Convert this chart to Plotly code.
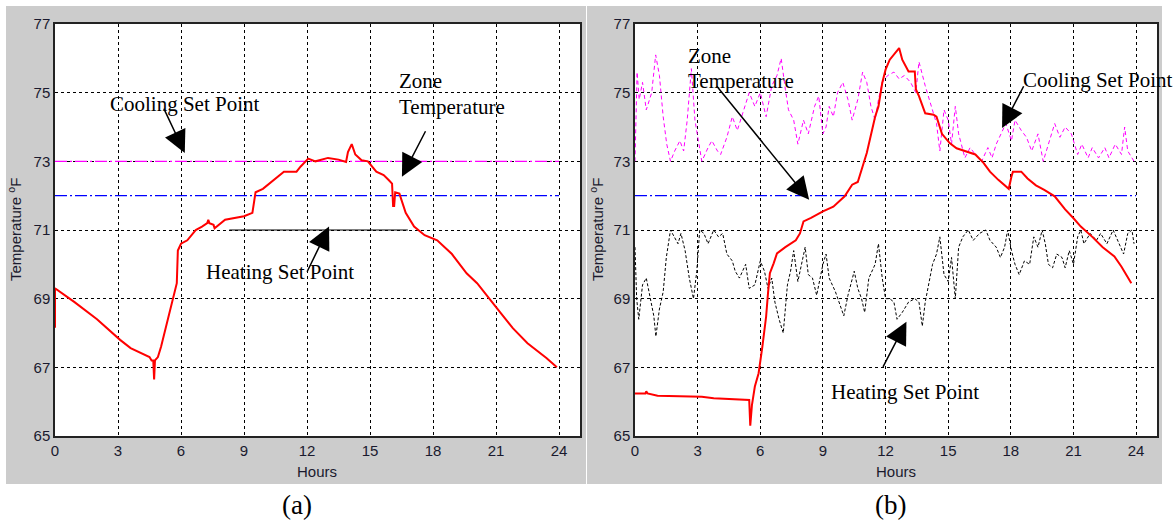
import plotly.graph_objects as go

# ---------------- data ----------------
hour_ticks = [0, 3, 6, 9, 12, 15, 18, 21, 24]
temp_ticks = [65, 67, 69, 71, 73, 75, 77]

# panel (a)
a_zone = [(0, 68.15), (0, 69.3), (0.93, 68.9), (2.0, 68.4), (3.1, 67.8), (3.6, 67.56),
          (4.5, 67.3), (4.6, 67.2), (4.68, 67.2), (4.72, 66.65), (4.76, 67.2), (4.9, 67.3),
          (5.05, 67.6), (5.3, 68.2), (5.6, 69.0), (5.8, 69.45), (5.85, 70.4), (6.0, 70.6),
          (6.3, 70.7), (6.7, 71.0), (7.0, 71.1), (7.25, 71.2), (7.3, 71.3), (7.35, 71.2),
          (7.55, 71.15), (7.6, 71.05), (8.1, 71.3), (9.0, 71.4), (9.4, 71.5), (9.55, 72.1),
          (9.9, 72.2), (10.3, 72.4), (10.6, 72.55), (10.9, 72.7), (11.5, 72.7), (11.7, 72.85),
          (12.06, 73.08), (12.4, 73.0), (13.0, 73.1), (13.5, 73.05), (13.86, 72.98),
          (13.95, 73.27), (14.13, 73.5), (14.3, 73.2), (14.6, 73.03), (14.9, 73.0),
          (15.3, 72.7), (15.65, 72.6), (15.9, 72.45), (16.05, 72.35), (16.1, 71.7),
          (16.15, 71.7), (16.2, 72.1), (16.4, 72.06), (16.7, 71.5), (17.1, 71.1),
          (17.6, 70.85), (18.2, 70.7), (18.9, 70.3), (19.6, 69.74), (20.1, 69.45),
          (20.7, 69.0), (21.2, 68.6), (21.8, 68.14), (22.5, 67.7), (23.4, 67.27), (23.9, 67.0)]
a_cooling = [(0, 73), (24, 73)]
a_mid = [(0, 72), (24, 72)]
a_heating = [(8.3, 71), (16.8, 71)]

# panel (b)
b_zone = [(0, 66.24), (0.5, 66.24), (0.54, 66.3), (0.6, 66.24), (1.08, 66.17), (2.3, 66.16),
          (3.2, 66.14), (3.77, 66.1), (4.66, 66.07), (5.47, 66.05), (5.52, 65.3),
          (5.6, 65.9), (5.74, 66.44), (5.92, 66.83), (6.1, 67.6), (6.28, 68.48),
          (6.37, 69.16), (6.46, 69.74), (6.64, 70.03), (6.8, 70.32), (7.2, 70.5),
          (7.7, 70.7), (7.9, 70.9), (8.07, 71.25), (8.43, 71.35), (9.0, 71.54),
          (9.5, 71.68), (10.04, 71.98), (10.4, 72.32), (10.67, 72.4), (10.9, 72.85),
          (11.1, 73.24), (11.5, 74.3), (11.66, 74.6), (11.84, 75.28), (12.0, 75.67),
          (12.2, 75.96), (12.47, 76.15), (12.65, 76.3), (12.8, 75.96), (13.1, 75.62),
          (13.4, 75.62), (13.45, 75.1), (13.6, 74.9), (13.9, 74.4), (14.3, 74.36),
          (14.44, 74.3), (14.7, 73.8), (15.07, 73.53), (15.4, 73.38), (15.8, 73.3),
          (16.3, 73.2), (16.7, 72.95), (17.0, 72.7), (17.4, 72.46), (17.76, 72.27),
          (17.9, 72.2), (18.03, 72.56), (18.1, 72.7), (18.5, 72.7), (18.8, 72.5),
          (19.2, 72.3), (19.6, 72.17), (20.1, 71.98), (20.6, 71.6), (20.99, 71.35),
          (21.35, 71.1), (21.9, 70.8), (22.4, 70.5), (22.96, 70.23), (23.3, 69.93),
          (23.77, 69.45)]
b_mid = [(0, 72), (24, 72)]
b_cooling = [(0, 73.0), (0.1, 75.6), (0.2, 74.8), (0.36, 75.3), (0.54, 74.5), (0.8, 75.0),
             (0.99, 76.1), (1.17, 75.5), (1.35, 74.3), (1.52, 73.5), (1.7, 73.0), (1.9, 73.3),
             (2.15, 73.6), (2.33, 73.3), (2.5, 74.2), (2.7, 75.7), (2.87, 74.2), (3.05, 73.6),
             (3.2, 73.0), (3.5, 73.4), (3.68, 73.6), (3.95, 73.3), (4.1, 73.2), (4.4, 73.7),
             (4.66, 74.3), (4.9, 73.9), (5.2, 74.5), (5.47, 75.0), (5.74, 74.6), (6.0, 75.0),
             (6.28, 74.3), (6.55, 75.2), (6.8, 75.5), (7.0, 76.0), (7.2, 75.1), (7.35, 74.5),
             (7.6, 74.2), (7.8, 73.5), (8.07, 74.2), (8.3, 73.8), (8.6, 74.6), (8.8, 74.9),
             (9.0, 73.8), (9.15, 74.0), (9.3, 74.6), (9.5, 74.3), (9.7, 75.0), (9.95, 75.3),
             (10.2, 74.8), (10.4, 74.2), (10.67, 74.8), (10.9, 75.6), (11.1, 75.3),
             (11.3, 74.6), (11.5, 74.2), (11.66, 74.8), (11.84, 75.3), (12.1, 75.5),
             (12.4, 75.6), (12.65, 75.4), (12.9, 75.5), (13.2, 75.3), (13.45, 75.0),
             (13.6, 75.9), (13.9, 75.2), (14.2, 74.6), (14.44, 74.1), (14.6, 73.3),
             (14.8, 74.5), (15.0, 74.2), (15.16, 73.5), (15.34, 74.6), (15.5, 73.8),
             (15.8, 73.1), (16.05, 73.4), (16.3, 73.2), (16.6, 73.0), (16.9, 73.4),
             (17.1, 73.1), (17.3, 73.5), (17.6, 73.9), (17.76, 74.1), (18.03, 73.6),
             (18.2, 74.2), (18.5, 73.9), (18.75, 73.7), (19.0, 73.3), (19.3, 73.8),
             (19.55, 73.0), (19.8, 73.5), (20.1, 74.1), (20.35, 73.7), (20.6, 74.0),
             (20.9, 73.8), (21.2, 73.2), (21.4, 73.5), (21.7, 73.1), (21.9, 73.4),
             (22.2, 73.1), (22.5, 73.4), (22.7, 73.1), (23.0, 73.5), (23.3, 73.2),
             (23.45, 74.0), (23.6, 73.3), (23.9, 73.0)]
b_heating = [(0, 70.5), (0.08, 69.0), (0.18, 68.4), (0.36, 69.4), (0.54, 69.6), (0.72, 69.0),
             (0.9, 68.5), (1.0, 67.9), (1.17, 68.7), (1.35, 69.2), (1.5, 70.2), (1.7, 71.0),
             (1.9, 70.8), (2.06, 70.6), (2.2, 70.9), (2.4, 70.4), (2.6, 69.6), (2.8, 69.0),
             (2.96, 69.8), (3.1, 71.0), (3.3, 70.9), (3.5, 70.6), (3.77, 71.0), (4.0, 70.8),
             (4.2, 70.9), (4.4, 70.3), (4.66, 70.1), (4.8, 69.8), (5.0, 69.6), (5.3, 70.0),
             (5.47, 69.3), (5.74, 69.4), (6.0, 70.1), (6.2, 69.8), (6.37, 69.3), (6.55, 69.6),
             (6.7, 68.9), (6.9, 68.4), (7.1, 68.0), (7.3, 69.4), (7.45, 69.8), (7.6, 70.4),
             (7.8, 69.5), (8.0, 70.1), (8.15, 70.5), (8.3, 69.7), (8.5, 69.6), (8.7, 69.1),
             (9.0, 70.0), (9.15, 70.3), (9.3, 69.6), (9.6, 69.2), (9.85, 68.8), (10.0, 68.5),
             (10.2, 69.1), (10.5, 69.8), (10.67, 69.3), (10.85, 69.0), (11.0, 68.6),
             (11.2, 69.6), (11.5, 70.0), (11.66, 70.6), (11.84, 69.6), (12.0, 69.0),
             (12.2, 69.0), (12.4, 68.9), (12.55, 68.4), (12.8, 68.6), (13.1, 68.9),
             (13.4, 69.0), (13.6, 68.9), (13.76, 68.2), (13.9, 68.9), (14.1, 69.6),
             (14.25, 70.0), (14.44, 70.3), (14.6, 70.8), (14.8, 69.7), (15.0, 69.5),
             (15.16, 70.2), (15.34, 69.0), (15.5, 70.5), (15.7, 70.8), (15.96, 71.0),
             (16.2, 70.7), (16.5, 70.9), (16.8, 71.0), (17.0, 70.7), (17.3, 70.5),
             (17.5, 70.2), (17.7, 70.5), (17.85, 71.0), (18.03, 70.4), (18.2, 70.0),
             (18.4, 69.7), (18.65, 70.1), (18.9, 70.0), (19.1, 70.8), (19.3, 70.5),
             (19.5, 71.0), (19.65, 70.6), (19.8, 70.0), (20.0, 69.9), (20.2, 70.3),
             (20.45, 70.2), (20.6, 69.9), (20.8, 70.4), (21.0, 70.0), (21.2, 70.8),
             (21.35, 71.0), (21.5, 70.6), (21.8, 70.9), (22.1, 70.7), (22.3, 70.9),
             (22.6, 70.6), (22.9, 71.0), (23.1, 70.7), (23.4, 70.3), (23.6, 70.9),
             (23.8, 71.0), (23.9, 70.6)]

# ---------------- figure ----------------
W, H = 1176, 522
def px_x(p): return p / W
def px_y(p): return 1 - p / H

fig = go.Figure()

def xs(pts): return [p[0] for p in pts]
def ys(pts): return [p[1] for p in pts]

# panel (a) traces
fig.add_trace(go.Scatter(x=xs(a_heating), y=ys(a_heating), mode="lines",
                         line=dict(color="black", width=1.2), xaxis="x", yaxis="y"))
fig.add_trace(go.Scatter(x=xs(a_cooling), y=ys(a_cooling), mode="lines",
                         line=dict(color="#ff00ff", width=1.2, dash="12px,3px,2px,3px"), xaxis="x", yaxis="y"))
fig.add_trace(go.Scatter(x=xs(a_mid), y=ys(a_mid), mode="lines",
                         line=dict(color="#0000ff", width=1.3, dash="12px,3px,2px,3px"), xaxis="x", yaxis="y"))
fig.add_trace(go.Scatter(x=xs(a_zone), y=ys(a_zone), mode="lines",
                         line=dict(color="#ff0000", width=2), xaxis="x", yaxis="y"))

# panel (b) traces
fig.add_trace(go.Scatter(x=xs(b_cooling), y=ys(b_cooling), mode="lines",
                         line=dict(color="#ff00ff", width=1, dash="4px,3px"), xaxis="x2", yaxis="y2"))
fig.add_trace(go.Scatter(x=xs(b_heating), y=ys(b_heating), mode="lines",
                         line=dict(color="black", width=1, dash="3px,2px"), xaxis="x2", yaxis="y2"))
fig.add_trace(go.Scatter(x=xs(b_mid), y=ys(b_mid), mode="lines",
                         line=dict(color="#0000ff", width=1.3, dash="12px,3px,2px,3px"), xaxis="x2", yaxis="y2"))
fig.add_trace(go.Scatter(x=xs(b_zone), y=ys(b_zone), mode="lines",
                         line=dict(color="#ff0000", width=2), xaxis="x2", yaxis="y2"))

tickfont = dict(family="Liberation Sans, Arial", size=15, color="#1a1a2e")
axis_common = dict(
    showgrid=True, gridcolor="black", gridwidth=1, griddash="3px,3px",
    zeroline=False, showline=True, linecolor="#222222", linewidth=1.5, mirror=True,
    ticks="", tickfont=tickfont, automargin=False,
)
ydom = [px_y(436), px_y(24)]
xdom_a = [px_x(55), px_x(580)]
xdom_b = [px_x(635), px_x(1157)]
fig.update_layout(
    xaxis=dict(domain=xdom_a, range=[0, 25], tickvals=hour_ticks, anchor="y", **axis_common),
    yaxis=dict(domain=ydom, range=[65, 77], tickvals=temp_ticks, anchor="x", **axis_common),
    xaxis2=dict(domain=xdom_b, range=[0, 25], tickvals=hour_ticks, anchor="y2", **axis_common),
    yaxis2=dict(domain=ydom, range=[65, 77], tickvals=temp_ticks, anchor="x2", **axis_common),
)

shapes = []
for x0, x1 in [(6, 586), (587, 1162)]:
    shapes.append(dict(type="rect", xref="paper", yref="paper", x0=px_x(x0), x1=px_x(x1),
                       y0=px_y(484), y1=px_y(6), fillcolor="#cccccc", line=dict(width=0), layer="below"))
for xr, yr in [("x domain", "y domain"), ("x2 domain", "y2 domain")]:
    shapes.append(dict(type="rect", xref=xr, yref=yr, x0=0, x1=1, y0=0, y1=1,
                       fillcolor="white", line=dict(width=0), layer="below"))
fig.update_layout(shapes=shapes)

serif = dict(family="Liberation Serif, Times New Roman", size=21, color="black")
ann = []
def label(text, x, y, xref, yref, xanchor="left", font=serif, **kw):
    ann.append(dict(text=text, x=x, y=y, xref=xref, yref=yref, showarrow=False,
                    xanchor=xanchor, yanchor="middle", font=font, **kw))
def arrow(x, y, ax, ay, xref, yref):
    ann.append(dict(text="", x=x, y=y, ax=ax, ay=ay, xref=xref, yref=yref, axref=xref, ayref=yref,
                    showarrow=True, arrowhead=2, arrowsize=3, arrowwidth=1.5, arrowcolor="black",
                    standoff=0, startstandoff=0))

# panel (a) annotations
label("Cooling Set Point", 2.5, 74.68, "x", "y")
arrow(6.18, 73.24, 5.15, 74.58, "x", "y")
label("Zone", 16.28, 75.33, "x", "y")
label("Temperature", 16.3, 74.58, "x", "y")
arrow(16.52, 72.55, 17.68, 73.92, "x", "y")
label("Heating Set Point", 7.1, 69.79, "x", "y")
arrow(13.05, 71.1, 11.97, 69.74, "x", "y")

# panel (b) annotations
label("Zone", 2.42, 76.06, "x2", "y2")
label("Temperature", 2.45, 75.33, "x2", "y2")
arrow(8.34, 71.88, 3.86, 75.23, "x2", "y2")
label("Cooling Set Point", 18.5, 75.38, "x2", "y2")
arrow(17.58, 73.97, 18.65, 75.23, "x2", "y2")
label("Heating Set Point", 9.3, 66.29, "x2", "y2")
arrow(13.0, 68.33, 11.84, 66.97, "x2", "y2")

# axis titles and captions
sans = dict(family="Liberation Sans, Arial", size=15, color="#1a1a2e")
for cx in [317, 896]:
    label("Hours", px_x(cx), px_y(471), "paper", "paper", xanchor="center", font=sans)
for cx in [15, 597]:
    label("Temperature <sup>o</sup>F", px_x(cx), px_y(230), "paper", "paper", xanchor="center",
          font=sans, textangle=-90)
cap = dict(family="Liberation Serif, Times New Roman", size=27, color="black")
label("(a)", px_x(297), px_y(505), "paper", "paper", xanchor="center", font=cap)
label("(b)", px_x(890), px_y(505), "paper", "paper", xanchor="center", font=cap)

fig.update_layout(
    annotations=ann, width=W, height=H, autosize=False,
    margin=dict(l=0, r=0, t=0, b=0, pad=0), paper_bgcolor="white", plot_bgcolor="white",
    showlegend=False,
)
fig.write_html("out.html", config={"displayModeBar": False},
               post_script="document.body.style.margin='0';document.body.style.overflow='hidden';")
